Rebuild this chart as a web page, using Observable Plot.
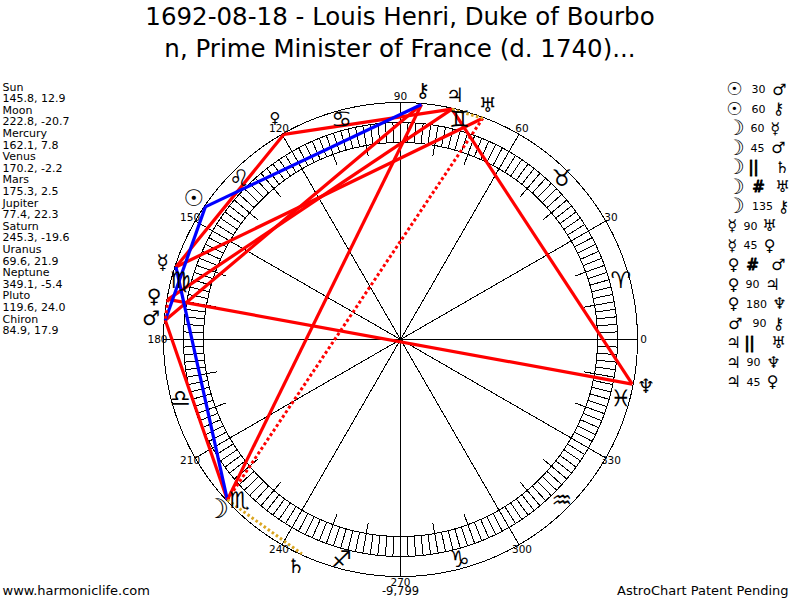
<!DOCTYPE html>
<html><head><meta charset="utf-8">
<script src="https://cdn.jsdelivr.net/npm/d3@7"></script>
<script src="https://cdn.jsdelivr.net/npm/@observablehq/plot@0.6"></script>
<style>
html,body{margin:0;padding:0;background:#fff;overflow:hidden}
#title{height:65px;padding-top:1px;width:800px;text-align:center;font:24.5px/32px "DejaVu Sans",sans-serif;color:#000;white-space:pre}
svg{display:block}
</style></head><body>
<div id="title">1692-08-18 - Louis Henri, Duke of Bourbo
n, Prime Minister of France (d. 1740)...</div>
<div id="chart"></div>
<script>
const T="\uFE0E";
const bodyNames=["Sun","Moon","Mercury","Venus","Mars","Jupiter","Saturn","Uranus","Neptune","Pluto","Chiron"];
const bodyLongitudes=[145.8,222.8,162.1,170.2,175.3,77.4,245.3,69.6,349.1,119.6,84.9];
const bodyLatitudes=["12.9","-20.7","7.8","-2.2","2.5","22.3","-19.6","21.9","-5.4","24.0","17.9"];
const bodyGlyphs=["☉","☽","☿","♀","♂","♃","♄","♅","♆","♀","⚷"];
const signGlyphs=["♈","♉","♊","♋","♌","♍","♎","♏","♐","♑","♒","♓"];
const degreeLabels=[0,30,60,90,120,150,180,210,240,270,300,330];

const aspectFrom=["Sun","Sun","Moon","Moon","Moon","Moon","Moon","Mercury","Mercury","Venus","Venus","Venus","Mars","Jupiter","Jupiter","Jupiter"];
const aspectName=["30","60","60","45","||","#","135","90","45","#","90","180","90","||","90","45"];
const aspectTo=["Mars","Chiron","Mercury","Mars","Saturn","Uranus","Chiron","Uranus","Pluto","Mars","Jupiter","Neptune","Chiron","Uranus","Neptune","Pluto"];

// layout of the list on the right (pixels)
const rowAspectX=[758,758,757,757,753,758,762,750,750,752,752,756,759,749,753,753];
const rowToX=[779,778,775,778,782,782,783,769,769,778,772,779,778,778,773,772];
const rowFromX=[734,734,735,735,735,735,735,732,732,733,733,733,735,733,733,733];

const R={inner:197,ring:217,outer:237,planet:236,glyph:250,sign:228,label:243,tick:186};
const pol=(deg,r)=>({x:r*Math.cos(deg*Math.PI/180),y:r*Math.sin(deg*Math.PI/180)});
const lon=n=>bodyLongitudes[bodyNames.indexOf(n)];
const PX=p=>p-400, PY=p=>339-p; // page pixel to plot units

const circle=r=>d3.range(0,361).map(a=>pol(a,r));
const aspects=aspectName.map((k,i)=>{
  const a=pol(lon(aspectFrom[i]),R.planet),b=pol(lon(aspectTo[i]),R.planet);
  return {k,x1:a.x,y1:a.y,x2:b.x,y2:b.y};
});
const kind=k=>k==="||"?"para":k==="#"?"contra":(k==="30"||k==="60")?"soft":"hard";
const ofKind=s=>aspects.filter(d=>kind(d.k)===s);
const spoke=(a,r0,r1)=>{const p=pol(a,r0),q=pol(a,r1);return {x1:p.x,y1:p.y,x2:q.x,y2:q.y}};
const crisp={shapeRendering:"crispEdges"};
const link=o=>({x1:"x1",y1:"y1",x2:"x2",y2:"y2",...o});
const font="DejaVu Sans";

const leftRows=bodyNames.flatMap((n,i)=>[n,`${bodyLongitudes[i].toFixed(1)}, ${bodyLatitudes[i]}`]);
const gl=n=>bodyGlyphs[bodyNames.indexOf(n)]+T;
const rowY=i=>89+i*19.5;
const chartSize=n=>n==="Sun"?23:n==="Moon"?27:n==="Pluto"?15:20;
const listSize=n=>n==="Sun"?18:n==="Moon"?21:16;

const plot=Plot.plot({
  width:800,height:534,margin:0,
  x:{domain:[-400,400],range:[0,800],axis:null},
  y:{domain:[273,-261],range:[0,534],axis:null},
  marks:[
    Plot.line(circle(R.outer),{x:"x",y:"y",stroke:"#000",strokeWidth:1,...crisp}),
    Plot.line(circle(R.ring),{x:"x",y:"y",stroke:"#000",strokeWidth:1,...crisp}),
    Plot.line(circle(R.inner),{x:"x",y:"y",stroke:"#000",strokeWidth:1,...crisp}),
    Plot.link(d3.range(0,360,2).map(a=>spoke(a,R.inner,R.ring)),link({stroke:"#000",strokeWidth:1,...crisp})),
    Plot.link(d3.range(0,360,10).map(a=>spoke(a,R.tick,R.inner)),link({stroke:"#000",strokeWidth:1,...crisp})),
    Plot.link(degreeLabels.map(a=>spoke(a,0,R.outer)),link({stroke:"#000",strokeWidth:1,...crisp})),
    Plot.link(ofKind("hard"),link({stroke:"#ff0000",strokeWidth:3.2})),
    Plot.link(ofKind("soft"),link({stroke:"#0000ff",strokeWidth:3.2})),
    Plot.link(ofKind("contra"),link({stroke:"#ff0000",strokeWidth:3,strokeDasharray:"3 2.5"})),
    Plot.link(ofKind("para"),link({stroke:"#daa520",strokeWidth:3,strokeDasharray:"2.5 2.5"})),
    Plot.text(degreeLabels,{x:a=>pol(a,R.label).x,y:a=>pol(a,R.label).y,text:String,fontFamily:font,fontSize:10.5,fill:"#000"}),
    Plot.text(signGlyphs,{x:(d,i)=>pol(15+30*i,R.sign).x,y:(d,i)=>pol(15+30*i,R.sign).y,text:d=>d+T,fontFamily:font,fontSize:23,fill:"#000"}),
    Plot.text(bodyGlyphs,{x:(d,i)=>pol(bodyLongitudes[i],bodyNames[i]==="Pluto"?R.glyph+4:R.glyph).x,y:(d,i)=>pol(bodyLongitudes[i],bodyNames[i]==="Pluto"?R.glyph+4:R.glyph).y,text:d=>d+T,fontFamily:font,fontSize:(d,i)=>chartSize(bodyNames[i]),fill:"#000"}),
    Plot.text(leftRows,{x:PX(2),y:(d,i)=>PY(86.5+i*11.6),text:d=>d,textAnchor:"start",fontFamily:font,fontSize:11,fill:"#000"}),
    Plot.text(aspectFrom,{x:(d,i)=>PX(rowFromX[i]),y:(d,i)=>PY(rowY(i)),text:gl,fontFamily:font,fontSize:listSize,fill:"#000"}),
    Plot.text(aspectName,{x:(d,i)=>PX(rowAspectX[i]),y:(d,i)=>PY(rowY(i)),text:d=>d,fontFamily:font,fontSize:d=>/\d/.test(d)?11:15,fontWeight:d=>/\d/.test(d)?"normal":"bold",stroke:d=>/\d/.test(d)?"none":"#000",strokeWidth:1,fill:"#000"}),
    Plot.text(aspectTo,{x:(d,i)=>PX(rowToX[i]),y:(d,i)=>PY(rowY(i)),text:gl,fontFamily:font,fontSize:listSize,fill:"#000"}),
    Plot.text(["www.harmoniclife.com"],{x:PX(2),y:PY(590),text:d=>d,textAnchor:"start",fontFamily:font,fontSize:13,fill:"#000"}),
    Plot.text(["-9,799"],{x:PX(400),y:PY(591),text:d=>d,fontFamily:font,fontSize:11.5,fill:"#000"}),
    Plot.text(["AstroChart Patent Pending"],{x:PX(788),y:PY(590),text:d=>d,textAnchor:"end",fontFamily:font,fontSize:13,fill:"#000"})
  ]
});
document.getElementById("chart").append(plot);
</script>
</body></html>
